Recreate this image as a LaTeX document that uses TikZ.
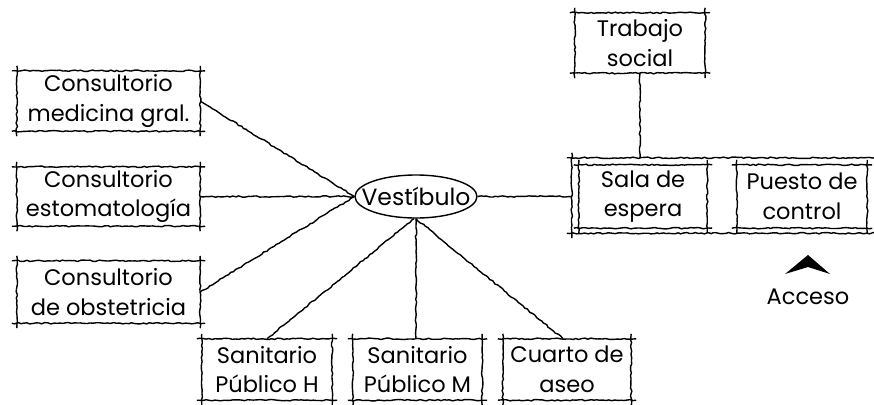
\documentclass[tikz,border=0pt]{standalone}
\usepackage{fontspec}
\setmainfont{Poppins}
\usetikzlibrary{decorations.pathmorphing,shapes.geometric}
\tikzset{
  sk/.style={line width=1.4pt, decorate, decoration={random steps, segment length=3pt, amplitude=0.7pt}},
  lbl/.style={inner sep=0pt, align=center, font=\fontsize{22.5}{29.5}\selectfont},
  bx/.style={lbl, minimum height=#1},
  bx/.default=60pt
}
\newcommand\skbox[1]{%
  \draw[sk] ([xshift=-5pt]#1.north west) -- ([xshift=5pt]#1.north east);
  \draw[sk] ([xshift=-5pt]#1.south west) -- ([xshift=5pt]#1.south east);
  \draw[sk] ([yshift=5pt]#1.north west) -- ([yshift=-5pt]#1.south west);
  \draw[sk] ([yshift=5pt]#1.north east) -- ([yshift=-5pt]#1.south east);}
\begin{document}
\begin{tikzpicture}[x=1pt,y=-1pt]
\pgfmathsetseed{7}
\useasboundingbox (0,0) rectangle (874,404);
% left column
\node[bx=60pt, minimum width=183pt] (med) at (108.5,101) {Consultorio\\medicina gral.};
\node[bx=59pt, minimum width=183pt] (est) at (108.5,196.5) {Consultorio\\estomatología};
\node[bx=62pt, minimum width=183pt] (obs) at (108.5,292) {Consultorio\\de obstetricia};
% centre
\node[draw, line width=1.4pt, ellipse, minimum width=122pt, minimum height=43pt, inner sep=0pt] (vest) at (416,196.5) {};
\node[lbl, font=\fontsize{23.5}{28}\selectfont] (vestt) at (vest.center) {Vestíbulo};
% bottom row
\node[bx=61pt, minimum width=130pt] (sh) at (267,369.5) {Sanitario\\Público H};
\node[bx=61pt, minimum width=129pt] (sm) at (417.5,369.5) {Sanitario\\Público M};
\node[bx=61pt, minimum width=128pt] (ca) at (567,369.5) {Cuarto de\\aseo};
% right side
\node[bx=60pt, minimum width=130pt] (ts) at (640,43) {Trabajo\\social};
\node[bx=75pt, minimum width=312pt] (cont) at (728,195.5) {};
\node[bx=63pt, minimum width=128pt] (sala) at (643,196.5) {Sala de\\espera};
\node[bx=63pt, minimum width=130pt] (pc) at (802,196.5) {Puesto de\\control};
\node[lbl] (acc) at (808,297) {Acceso};
\coordinate (chev) at (808,264);
\fill (chev) ++(-23,10) -- ++(23,-19) -- ++(22,19) -- ++(-22,-7) -- cycle;
% boxes
\foreach \n in {med,est,obs,sh,sm,ca,ts,sala,pc} {\skbox{\n}}
\draw[sk] ([xshift=-5pt]cont.north west) -- (cont.north east);
\draw[sk] ([xshift=-5pt]cont.south west) -- (cont.south east);
\draw[sk] ([yshift=5pt]cont.north west) -- ([yshift=-5pt]cont.south west);
% connectors
\draw[sk] (med.east) -- (vest.west);
\draw[sk] (est.east) -- (vest.west);
\draw[sk] (obs.east) -- (vest.west);
\draw[sk] ([xshift=-2pt]vest.south) -- (sh.north);
\draw[sk] (vest.south) -- (vest.south |- sm.north);
\draw[sk] (vest.south) -- ([xshift=-4pt]ca.north);
\draw[sk] (vest.east) -- (vest.east -| cont.west);
\draw[sk] (ts.south) -- (ts.south |- cont.north);
\end{tikzpicture}
\end{document}
